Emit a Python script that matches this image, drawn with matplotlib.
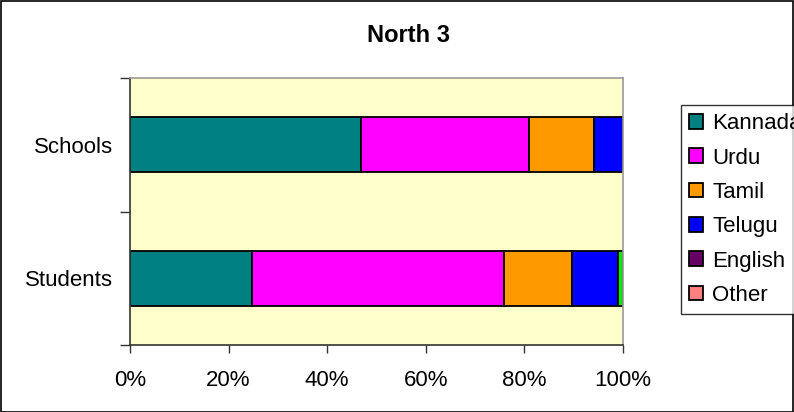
import matplotlib
matplotlib.use("Agg")
import matplotlib.pyplot as plt
import numpy as np

plt.rcParams['font.family'] = ['Liberation Sans', 'DejaVu Sans']

# data (percent of total), bottom category first
categories = ['Students', 'Schools']
languages = ['Kannada', 'Urdu', 'Tamil', 'Telugu', 'English', 'Other', '']
kannada = [24.7, 46.9]
urdu = [51.2, 34.0]
tamil = [13.7, 13.2]
telugu = [9.4, 5.9]
english = [0.0, 0.0]
other = [0.0, 0.0]
extra = [1.0, 0.0]
colors = ['#008080', '#FF00FF', '#FF9900', '#0000FF', '#660066', '#FF8080', '#00EE00']

series = [kannada, urdu, tamil, telugu, english, other, extra]

fig = plt.figure(figsize=(7.94, 4.12), dpi=100)
ax = fig.add_axes([0.1637, 0.1626, 0.6209, 0.648])
ax.set_facecolor('#FFFFCC')

y = np.arange(len(categories))
left = np.zeros(len(categories))
handles = []
for name, vals, c in zip(languages, series, colors):
    vals = np.array(vals)
    b = ax.barh(y, vals, left=left, height=0.41, color=c, edgecolor='black', linewidth=1.3)
    if name:
        handles.append((b, name))
    left = left + vals

ax.set_xlim(0, 100)
ax.set_ylim(-0.5, 1.5)
ax.set_xticks([0, 20, 40, 60, 80, 100])
ax.set_xticklabels(['0%', '20%', '40%', '60%', '80%', '100%'], fontsize=16)
ax.set_yticks([-0.5, 0.5, 1.5])
ax.set_yticklabels([])
ax.set_yticks(y, minor=True)
ax.set_yticklabels(categories, minor=True, fontsize=16)
ax.tick_params(axis='y', which='minor', length=0, pad=12)
ax.tick_params(axis='y', which='major', length=7, width=1, color='#333333')
ax.tick_params(axis='x', length=6, width=1, pad=12, color='#333333')

ax.spines['left'].set_color('#333333')
ax.spines['bottom'].set_color('#333333')
ax.spines['top'].set_color('#999999')
ax.spines['right'].set_color('#999999')
for s in ax.spines.values():
    s.set_linewidth(1.2)

fig.text(0.514, 0.915, 'North 3', ha='center', va='center', fontsize=17, fontweight='bold')

leg = fig.legend([h[0] for h in handles], [h[1] for h in handles],
                 loc='center left', bbox_to_anchor=(0.858, 0.4915), bbox_transform=fig.transFigure,
                 fontsize=16, frameon=True, fancybox=False, edgecolor='black',
                 handlelength=0.65, handleheight=0.65, handletextpad=0.4,
                 labelspacing=0.6, borderpad=0.35, borderaxespad=0)
leg.get_frame().set_linewidth(1.0)

# outer border
fig.patches.append(plt.Rectangle((0.001, 0.001), 0.998, 0.997, transform=fig.transFigure,
                                 fill=False, edgecolor='black', linewidth=1.2))

fig.savefig('out.png', dpi=100)
